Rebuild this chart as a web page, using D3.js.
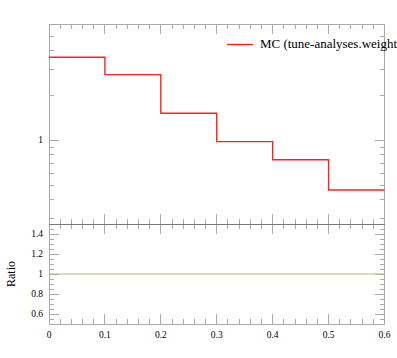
<!DOCTYPE html>
<html>
<head>
<meta charset="utf-8">
<script src="https://cdn.jsdelivr.net/npm/d3@7"></script>
<style>
  html, body { margin: 0; padding: 0; background: #fff; }
  svg { display: block; }
</style>
</head>
<body>
<svg id="chart" width="397" height="358"></svg>
<script>
// ---- data ----
const binEdges = [0, 0.1, 0.2, 0.3, 0.4, 0.5, 0.6];
const mcValues = [3.61, 2.76, 1.52, 0.979, 0.741, 0.464];
const ratioValues = [1, 1, 1, 1, 1, 1];
const xTickLabels = ["0", "0.1", "0.2", "0.3", "0.4", "0.5", "0.6"];
const xTickValues = [0, 0.1, 0.2, 0.3, 0.4, 0.5, 0.6];
const mainMajorTicks = [1];
const mainMajorLabels = ["1"];
const mainMinorTicks = [0.3, 0.4, 0.5, 0.6, 0.7, 0.8, 0.9, 2, 3, 4, 5, 6];
const ratioMajorTicks = [0.6, 0.8, 1, 1.2, 1.4];
const ratioMajorLabels = ["0.6", "0.8", "1", "1.2", "1.4"];
const ratioMinorTicks = [0.55, 0.65, 0.7, 0.75, 0.85, 0.9, 0.95, 1.05, 1.1, 1.15, 1.25, 1.3, 1.35, 1.45];
const legendLabel = "MC (tune-analyses.weight";

// ---- layout ----
const FONT = "'Liberation Serif', 'DejaVu Serif', serif";
const L = 49, R = 384.5, T = 24, MID = 224, B = 324;
const svg = d3.select("#chart");
const frameCol = "#aaaaaa";

const x = d3.scaleLinear().domain([0, 0.6]).range([L, R]);
const y = d3.scaleLog().domain([0.2744, 6.03]).range([MID, T]);
const yr = d3.scaleLinear().domain([0.5, 1.5]).range([B, MID]);

const xMinor = d3.range(0, 0.6001, 0.02).filter(v => Math.abs(v * 10 - Math.round(v * 10)) > 1e-6);

function hTicks(g, yPos, dir) {
  xTickValues.forEach(v => {
    g.append("line").attr("x1", x(v)).attr("x2", x(v))
      .attr("y1", yPos).attr("y2", yPos + dir * 10)
      .attr("stroke", frameCol).attr("stroke-width", 1);
  });
  xMinor.forEach(v => {
    g.append("line").attr("x1", x(v)).attr("x2", x(v))
      .attr("y1", yPos).attr("y2", yPos + dir * 5)
      .attr("stroke", frameCol).attr("stroke-width", 1);
  });
}
function vTicks(g, scale, majors, minors) {
  majors.forEach(v => {
    g.append("line").attr("x1", L).attr("x2", L + 10).attr("y1", scale(v)).attr("y2", scale(v))
      .attr("stroke", frameCol);
    g.append("line").attr("x1", R).attr("x2", R - 10).attr("y1", scale(v)).attr("y2", scale(v))
      .attr("stroke", frameCol);
  });
  minors.forEach(v => {
    g.append("line").attr("x1", L).attr("x2", L + 5).attr("y1", scale(v)).attr("y2", scale(v))
      .attr("stroke", frameCol);
    g.append("line").attr("x1", R).attr("x2", R - 5).attr("y1", scale(v)).attr("y2", scale(v))
      .attr("stroke", frameCol);
  });
}

const g = svg.append("g").attr("shape-rendering", "crispEdges");
hTicks(g, T, 1);
hTicks(g, MID, -1);
hTicks(g, MID, 1);
hTicks(g, B, -1);
vTicks(g, y, mainMajorTicks, mainMinorTicks);
vTicks(g, yr, ratioMajorTicks, ratioMinorTicks);

g.append("rect").attr("x", L).attr("y", T).attr("width", R - L).attr("height", MID - T)
  .attr("fill", "none").attr("stroke", frameCol);
g.append("rect").attr("x", L).attr("y", MID).attr("width", R - L).attr("height", B - MID)
  .attr("fill", "none").attr("stroke", frameCol);
g.append("line").attr("x1", L).attr("x2", R).attr("y1", MID).attr("y2", MID)
  .attr("stroke", "#777777");

// histogram step line
const stepPts = [];
mcValues.forEach((v, i) => {
  stepPts.push([x(binEdges[i]), y(v)]);
  stepPts.push([x(binEdges[i + 1]), y(v)]);
});
svg.append("path")
  .attr("d", d3.line()(stepPts))
  .attr("fill", "none").attr("stroke", "#ff2020").attr("stroke-width", 1.4);

// ratio line
const ratioPts = [];
ratioValues.forEach((v, i) => {
  ratioPts.push([x(binEdges[i]), yr(v)]);
  ratioPts.push([x(binEdges[i + 1]), yr(v)]);
});
svg.append("path")
  .attr("d", d3.line()(ratioPts))
  .attr("fill", "none").attr("stroke", "#b4b482").attr("stroke-width", 1.2);

// labels
const fs = 9.5;
xTickValues.forEach((v, i) => {
  svg.append("text").attr("x", x(v)).attr("y", 338).attr("text-anchor", "middle")
    .attr("font-family", FONT).attr("font-size", fs).text(xTickLabels[i]);
});
mainMajorTicks.forEach((v, i) => {
  svg.append("text").attr("x", 43).attr("y", y(v) + 3.2).attr("text-anchor", "end")
    .attr("font-family", FONT).attr("font-size", fs).text(mainMajorLabels[i]);
});
ratioMajorTicks.forEach((v, i) => {
  svg.append("text").attr("x", 43).attr("y", yr(v) + 3.2).attr("text-anchor", "end")
    .attr("font-family", FONT).attr("font-size", fs).text(ratioMajorLabels[i]);
});
svg.append("text").attr("transform", "translate(15,274) rotate(-90)")
  .attr("text-anchor", "middle").attr("font-family", FONT).attr("font-size", 12).text("Ratio");

// legend
svg.append("line").attr("x1", 227).attr("x2", 253).attr("y1", 44.5).attr("y2", 44.5)
  .attr("stroke", "#ff2020").attr("stroke-width", 1.4);
svg.append("text").attr("x", 260).attr("y", 48).attr("font-family", FONT).attr("font-size", 11.5)
  .attr("textLength", 137).attr("lengthAdjust", "spacingAndGlyphs").text(legendLabel);
</script>
</body>
</html>
